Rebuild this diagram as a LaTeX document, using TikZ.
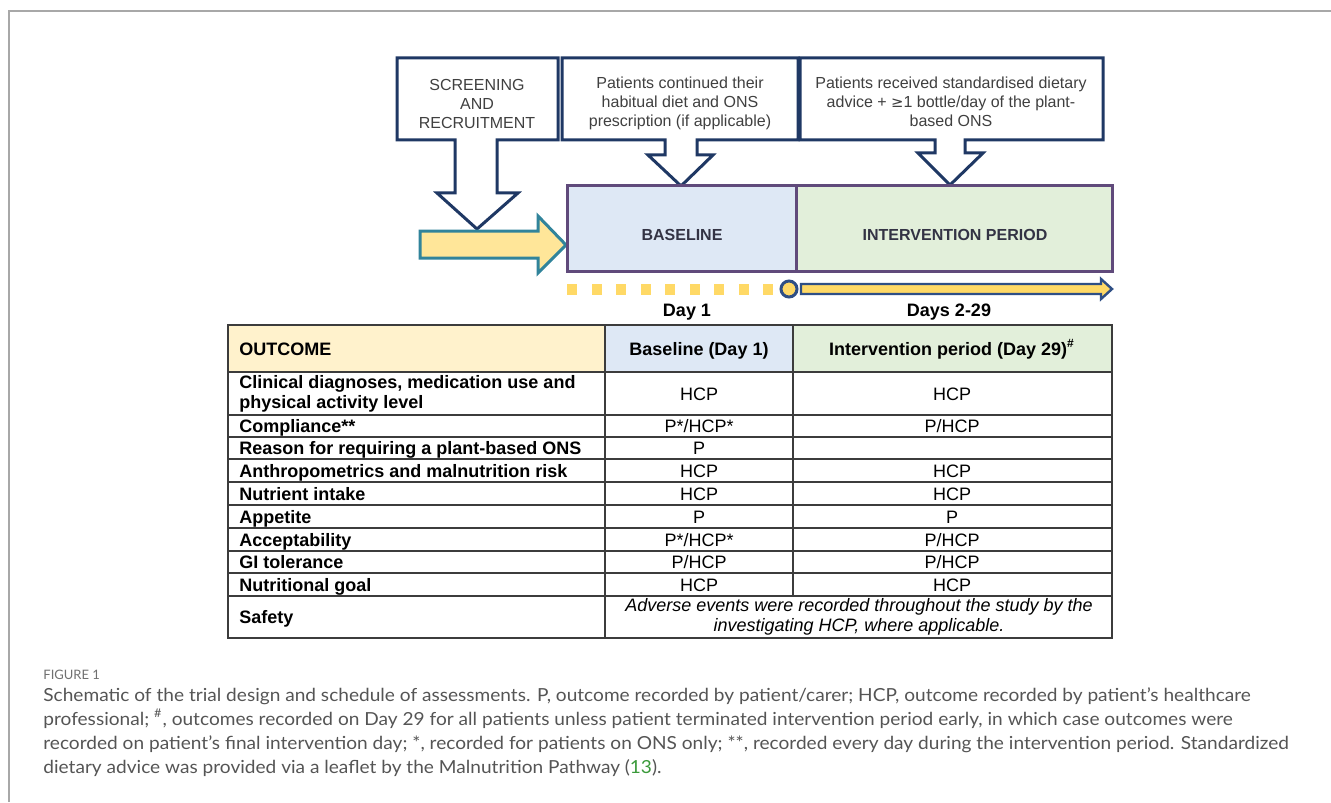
\documentclass[tikz,border=0pt]{standalone}
\usepackage{fontspec}
\setmainfont{Liberation Sans}
\newfontfamily\capfont{Lato}
\definecolor{navy}{HTML}{1F3864}
\definecolor{boxgray}{HTML}{404040}
\definecolor{ylw}{HTML}{FFE699}
\definecolor{ylwdk}{HTML}{FFD966}
\definecolor{teal}{HTML}{31849B}
\definecolor{blfill}{HTML}{DEE8F5}
\definecolor{ivfill}{HTML}{E2EFDA}
\definecolor{purp}{HTML}{604A7B}
\definecolor{phase}{HTML}{333344}
\definecolor{lineblue}{HTML}{2F4F85}
\definecolor{outfill}{HTML}{FFF2CC}
\definecolor{tline}{HTML}{3C3C3C}
\definecolor{capgray}{HTML}{555555}
\definecolor{figgray}{HTML}{707070}
\definecolor{framegray}{HTML}{A8A8A8}
\definecolor{refgreen}{HTML}{3A9A3A}
\newcommand{\capsc}[1]{\scalebox{1.06}[1]{#1}}
\tikzset{
  callout/.style={draw=navy, fill=white, line width=1.5pt, line join=miter},
  boxtext/.style={font=\fontsize{8}{9.5}\selectfont, align=center, text=boxgray, inner sep=0pt},
  phasetext/.style={font=\bfseries\fontsize{8}{9.5}\selectfont, text=phase, inner sep=0pt},
  daylbl/.style={font=\bfseries\fontsize{9}{11}\selectfont, inner sep=0pt},
  tcell/.style={font=\fontsize{9}{10}\selectfont, inner sep=0pt, text height=6.45pt, text depth=0pt},
  tleft/.style={tcell, font=\bfseries\fontsize{9}{10}\selectfont, anchor=west},
  tline/.style={draw=tline, line width=0.7pt},
  capline/.style={font=\capfont\fontsize{9}{12}\selectfont, text=capgray, anchor=base west, inner sep=0pt},
}
\begin{document}
\begin{tikzpicture}[x=0.5pt,y=-0.5pt]
\useasboundingbox (0,0) rectangle (1331,802);
\fill[white] (0,0) rectangle (1331,802);
\draw[framegray, line width=1pt] (9,802) -- (9,11) -- (1331,11);

% callout boxes
\draw[callout] (397,58) -- (558,58) -- (558,140) -- (497,140) -- (497,193) -- (518,193) -- (477,229) -- (437,193) -- (455,193) -- (455,140) -- (397,140) -- cycle;
\draw[callout] (562,58) -- (798,58) -- (798,140) -- (697,140) -- (697,155) -- (713,155) -- (681,186) -- (648,155) -- (665,155) -- (665,140) -- (562,140) -- cycle;
\draw[callout] (800,58) -- (1103,58) -- (1103,140) -- (965,140) -- (965,153) -- (983,153) -- (950,185) -- (918,153) -- (935,153) -- (935,140) -- (800,140) -- cycle;
\node[boxtext] (scr) at (477,104) {SCREENING\\AND\\RECRUITMENT};
\node[boxtext] (hab) at (680,103) {Patients continued their\\habitual diet and ONS\\prescription (if applicable)};
\node[boxtext] (adv) at (951,102) {Patients received standardised dietary\\advice + {\fontspec{DejaVu Sans}\fontsize{7.4}{9.5}\selectfont ≥}1 bottle/day of the plant-\\based ONS};

% yellow entry arrow
\draw[draw=teal, fill=ylw, line width=1.5pt, line join=miter] (420,231) -- (538,231) -- (538,216) -- (566,245) -- (538,273) -- (538,258) -- (420,258) -- cycle;

% phase boxes
\path[draw=purp, fill=blfill, line width=1.5pt] (567,186) rectangle (796,271);
\path[draw=purp, fill=ivfill, line width=1.5pt] (796,186) rectangle (1112,271);
\node[phasetext] (base) at (682,235) {BASELINE};
\node[phasetext] (inter) at (955,235) {INTERVENTION PERIOD};

% timeline
\foreach \i in {0,...,8} {
  \fill[ylwdk] ({567+24.5*\i},284) rectangle ({577+24.5*\i},295);
}
\draw[draw=lineblue, fill=ylwdk, line width=1.2pt, line join=miter] (801,284) -- (1101,284) -- (1101,279) -- (1112,289) -- (1101,299) -- (1101,294) -- (801,294) -- cycle;
\node[circle, draw=lineblue, fill=ylwdk, line width=1.5pt, minimum size=8pt, inner sep=0pt] (day1pt) at (789,289) {};
\node[daylbl] (d1) at (687,312) {Day 1};
\node[daylbl] (d229) at (949,312) {Days 2-29};

% table
\fill[outfill] (228,325) rectangle (605,372);
\fill[blfill] (605,325) rectangle (793,372);
\fill[ivfill] (793,325) rectangle (1112,372);
\draw[tline] (228,325) rectangle (1112,638);
\foreach \yy in {372,415,437,459,482,505,528,551,573,596} {
  \draw[tline] (228,\yy) -- (1112,\yy);
}
\draw[tline] (605,325) -- (605,638);
\draw[tline] (793,325) -- (793,596);

\node[tleft] (hOut) at (239,349) {OUTCOME};
\node[tcell, font=\bfseries\fontsize{9}{10}\selectfont] (hBl) at (699,349) {Baseline (Day 1)};
\node[tcell, font=\bfseries\fontsize{9}{10}\selectfont] (hIv) at (952,349) {Intervention period (Day 29)\textsuperscript{\#}};

\node[font=\bfseries\fontsize{9}{10}\selectfont, align=left, anchor=north west, inner sep=0pt] (r1) at (239,375) {Clinical diagnoses, medication use and\\physical activity level};
\node[tcell] (r1b) at (699,394) {HCP};
\node[tcell] (r1c) at (952,394) {HCP};

\node[tleft] (r2) at (239,426) {Compliance**};
\node[tcell] (r2b) at (699,426) {P*/HCP*};
\node[tcell] (r2c) at (952,426) {P/HCP};

\node[tleft] (r3) at (239,448) {Reason for requiring a plant-based ONS};
\node[tcell] (r3b) at (699,448) {P};

\node[tleft] (r4) at (239,471) {Anthropometrics and malnutrition risk};
\node[tcell] (r4b) at (699,471) {HCP};
\node[tcell] (r4c) at (952,471) {HCP};

\node[tleft] (r5) at (239,494) {Nutrient intake};
\node[tcell] (r5b) at (699,494) {HCP};
\node[tcell] (r5c) at (952,494) {HCP};

\node[tleft] (r6) at (239,517) {Appetite};
\node[tcell] (r6b) at (699,517) {P};
\node[tcell] (r6c) at (952,517) {P};

\node[tleft] (r7) at (239,540) {Acceptability};
\node[tcell] (r7b) at (699,540) {P*/HCP*};
\node[tcell] (r7c) at (952,540) {P/HCP};

\node[tleft] (r8) at (239,562) {GI tolerance};
\node[tcell] (r8b) at (699,562) {P/HCP};
\node[tcell] (r8c) at (952,562) {P/HCP};

\node[tleft] (r9) at (239,585) {Nutritional goal};
\node[tcell] (r9b) at (699,585) {HCP};
\node[tcell] (r9c) at (952,585) {HCP};

\node[tleft] (r10) at (239,617) {Safety};
\node[font=\itshape\fontsize{9}{10}\selectfont, align=center, inner sep=0pt] (r10b) at (859,617) {Adverse events were recorded throughout the study by the\\investigating HCP, where applicable.};

% caption
\node[font=\capfont\fontsize{6.5}{8}\selectfont, text=figgray, anchor=base west, inner sep=0pt] (fig) at (43,679) {FIGURE 1};
\node[capline] (c1) at (43,701) {\capsc{Schematic of the trial design and schedule of assessments. P, outcome recorded by patient/carer; HCP, outcome recorded by patient’s healthcare}};
\node[capline] (c2) at (43,725) {\capsc{professional; \textsuperscript{\#}, outcomes recorded on Day 29 for all patients unless patient terminated intervention period early, in which case outcomes were}};
\node[capline] (c3) at (43,749) {\capsc{recorded on patient’s final intervention day; *, recorded for patients on ONS only; **, recorded every day during the intervention period. Standardized}};
\node[capline] (c4) at (43,773) {\capsc{dietary advice was provided via a leaflet by the Malnutrition Pathway (\textcolor{refgreen}{13}).}};
\end{tikzpicture}
\end{document}
